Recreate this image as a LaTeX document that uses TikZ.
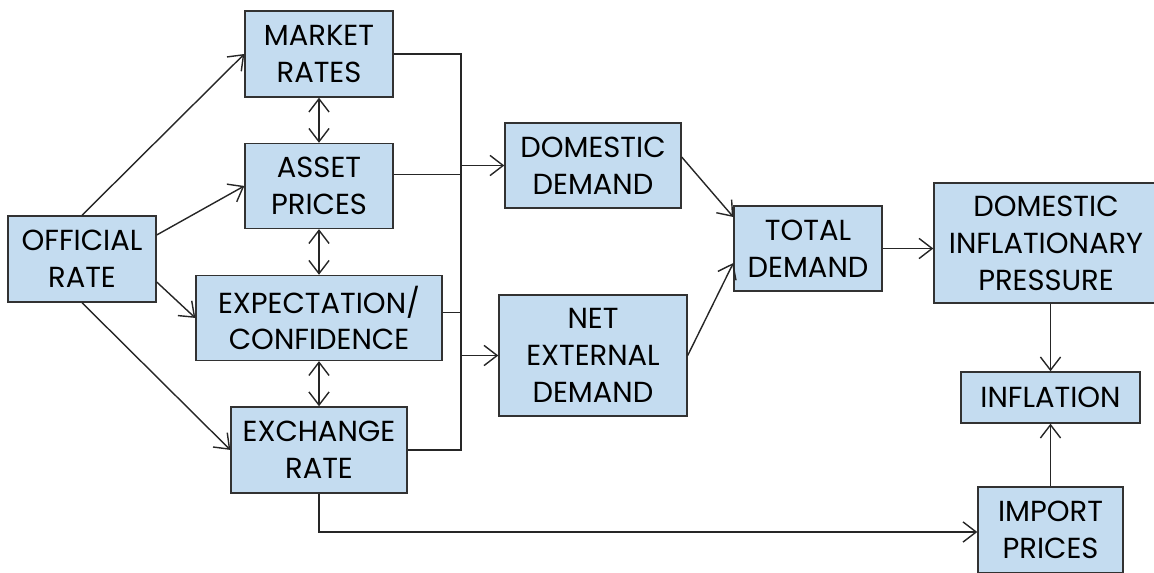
\documentclass[tikz,border=0pt]{standalone}
\usepackage{fontspec}
\setmainfont{Poppins}
\usetikzlibrary{arrows.meta, positioning, calc}
\definecolor{boxblue}{RGB}{196,220,240}
\definecolor{edgegray}{RGB}{50,50,50}

\begin{document}
\begin{tikzpicture}[x=0.02cm, y=0.02cm, node distance=2.64cm, >={Straight Barb[length=7.5pt,width=11.5pt]},
  box/.style={draw=edgegray, fill=boxblue, line width=0.8pt, align=center, inner sep=0pt,
    font=\fontsize{16.5}{21}\selectfont},
  link/.style={line width=0.8pt, draw=black!85}]
\useasboundingbox (0,0) rectangle (1154,572);
% left column
\node[box, minimum width=2.96cm, minimum height=1.72cm] (market) at (319,518) {MARKET\\RATES};
\node[box, minimum width=2.96cm, minimum height=1.70cm, below of=market] (asset) {ASSET\\PRICES};
\node[box, minimum width=4.92cm, minimum height=1.70cm, below of=asset] (expect) {EXPECTATION/\\CONFIDENCE};
\node[box, minimum width=3.52cm, minimum height=1.72cm, below of=expect] (exch) {EXCHANGE\\RATE};
\node[box, minimum width=2.96cm, minimum height=1.72cm] (official) at (82,313) {OFFICIAL\\RATE};
% demand
\node[box, minimum width=3.52cm, minimum height=1.70cm] (domestic) at (593,406.5) {DOMESTIC\\DEMAND};
\node[box, minimum width=3.76cm, minimum height=2.42cm] (netext) at (593,216.5) {NET\\EXTERNAL\\DEMAND};
\node[box, minimum width=2.96cm, minimum height=1.70cm] (total) at (808,323.5) {TOTAL\\DEMAND};
% inflation side
\node[box, minimum width=4.48cm, minimum height=2.40cm] (pressure) at (1046,329) {DOMESTIC\\INFLATIONARY\\PRESSURE};
\node[box, minimum width=3.58cm, minimum height=1.02cm] (inflation) at (1050.5,174.5) {INFLATION};
\node[box, minimum width=2.90cm, minimum height=1.72cm] (import) at (1050.5,42) {IMPORT\\PRICES};
\coordinate (bus) at (461,300);

% official rate channels
\draw[link, ->] (official.north) -- (market.west);
\draw[link, ->] ([yshift=0.48cm]official.east) -- (asset.west);
\draw[link, ->] ([yshift=-0.46cm]official.east) -- (expect.west);
\draw[link, ->] (official.south) -- (exch.west);
\draw[link, <->] (market) -- (asset);
\draw[link, <->] (asset) -- (expect);
\draw[link, <->] (expect) -- (exch);

% collecting line
\draw[link] (market.east) -| (bus |- exch.east) -- (exch.east);
\draw[link] ([yshift=0.23cm]asset.east) -| (bus);
\draw[link] ([yshift=0.11cm]expect.east) -| (bus);
\draw[link, ->] (bus |- domestic.west) -- (domestic.west);
\draw[link, ->] (bus |- netext.west) -- (netext.west);

% to total demand and inflation
\draw[link, ->] ([yshift=0.17cm]domestic.east) -- ([yshift=0.63cm]total.west);
\draw[link, ->] (netext.east) -- ([yshift=-0.29cm]total.west);
\draw[link, ->] (total.east) -- (total.east -| pressure.west);
\draw[link, ->] (pressure.south -| inflation.north) -- (inflation.north);
\draw[link, ->] (import.north) -- (inflation.south);
\draw[link, ->] (exch.south) |- ([yshift=-0.04cm]import.west);
\end{tikzpicture}
\end{document}
